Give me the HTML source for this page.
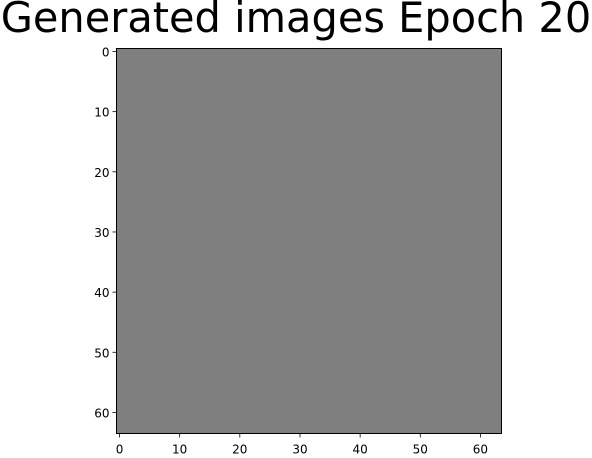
<!DOCTYPE html>
<html><head><meta charset="utf-8"><style>
html,body{margin:0;padding:0;background:#fff;width:592px;height:458px;overflow:hidden}
svg{display:block;font-family:"DejaVu Sans","Liberation Sans",sans-serif}
</style></head><body>
<svg id="chart" width="592" height="458" viewBox="0 0 592 458">
<text x="296" y="32" text-anchor="middle" font-size="41.5" fill="#000">Generated images Epoch 20</text>
<g id="plot"></g>
</svg>
<script>
const xTicks = [0,10,20,30,40,50,60];
const yTicks = [0,10,20,30,40,50,60];
const imageSize = [64];
const pixelValue = [127];
const NS='http://www.w3.org/2000/svg';
const L=116.5,T=48.5,W=385,H=385;
const n=imageSize[0];
const sx=v=>L+(v+0.5)*W/n, sy=v=>T+(v+0.5)*H/n;
const g=document.getElementById('plot');
function mk(t,a){const e=document.createElementNS(NS,t);for(const k in a)e.setAttribute(k,a[k]);g.appendChild(e);return e;}
const img=mk('rect',{x:L,y:T,width:W,height:H,fill:`rgb(${pixelValue[0]},${pixelValue[0]},${pixelValue[0]})`});


const fr=mk('rect',{x:L,y:T,width:W,height:H,fill:'none',stroke:'#000','stroke-width':1});


xTicks.forEach(v=>{const x=sx(v);
 mk('line',{x1:x,y1:T+H,x2:x,y2:T+H+4,stroke:'#000','stroke-width':0.8});
 const t=mk('text',{x:x,y:T+H+20,'text-anchor':'middle','font-size':12,fill:'#000'});t.textContent=v;
 
 });
yTicks.forEach(v=>{const y=sy(v);
 mk('line',{x1:L,y1:y,x2:L-4,y2:y,stroke:'#000','stroke-width':0.8});
 const t=mk('text',{x:L-7,y:y+5,'text-anchor':'end','font-size':12,fill:'#000'});t.textContent=v;
 
 });
</script>
</body></html>
